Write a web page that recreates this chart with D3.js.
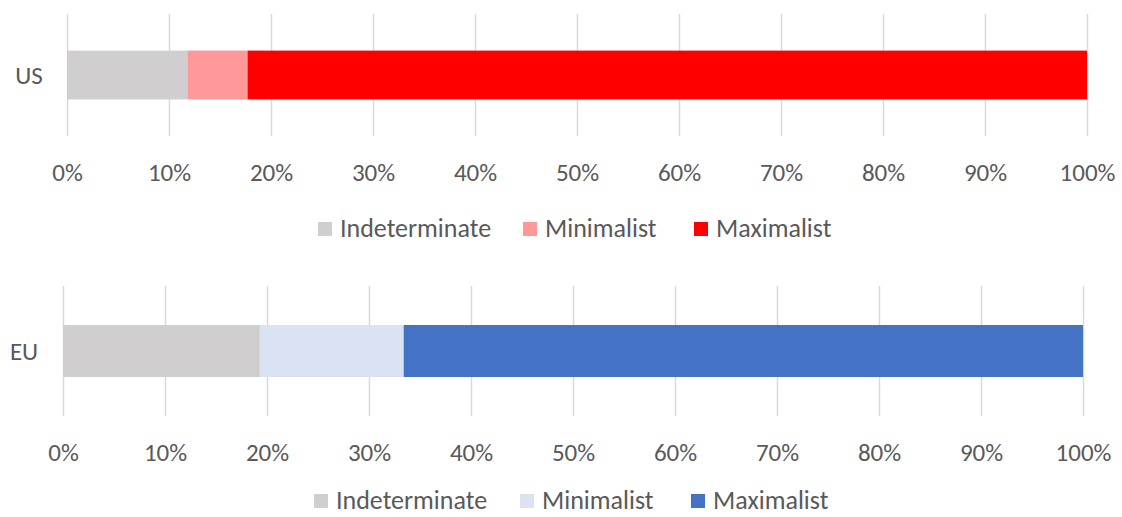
<!DOCTYPE html>
<html>
<head>
<meta charset="utf-8">
<script src="https://cdn.jsdelivr.net/npm/d3@7"></script>
<style>
  body { margin: 0; background: #fff; }
  svg { display: block; font-family: Carlito, Calibri, Lato, sans-serif; }
</style>
</head>
<body>
<script>
// data
var categories = ["Indeterminate", "Minimalist", "Maximalist"];
var usValues = [11.8, 5.9, 82.3];
var euValues = [19.3, 14.1, 66.6];
var tickValues = [0, 10, 20, 30, 40, 50, 60, 70, 80, 90, 100];

var usColors = ["#d0cece", "#ff9999", "#ff0000"];
var euColors = ["#d0cece", "#dae3f3", "#4472c4"];

var width = 1122;
var height = 517;
var fontSize = 25;
var legendFont = 26;

var svg = d3.select("body")
  .append("svg")
    .attr("width", width)
    .attr("height", height);

// one panel = one stacked bar with its own axis and legend
function panel(opts) {
  var x = d3.scaleLinear().domain([0, 100]).range([opts.x0, opts.x1]);
  var y = d3.scaleBand().domain([opts.label]).range([opts.top, opts.bottom])
    .paddingInner(0.6).paddingOuter(0.3);

  var g = svg.append("g");

  // gridlines
  g.append("g")
    .attr("transform", "translate(0," + opts.bottom + ")")
    .call(d3.axisBottom(x).tickValues(tickValues).tickSize(opts.bottom - opts.top).tickFormat(""))
    .call(function(a) {
      a.select(".domain").remove();
      a.selectAll("line").attr("stroke", "#d9d9d9").attr("stroke-width", 1.5)
        .attr("y1", 0).attr("y2", -(opts.bottom - opts.top));
    });

  // stacked segments
  var start = 0;
  var segs = opts.values.map(function(v, i) {
    var s = {name: categories[i], from: start, to: start + v, color: opts.colors[i]};
    start += v;
    return s;
  });

  g.selectAll("rect.seg").data(segs).enter().append("rect")
    .attr("class", "seg")
    .attr("x", function(d) { return x(d.from); })
    .attr("width", function(d) { return x(d.to) - x(d.from); })
    .attr("y", y(opts.label))
    .attr("height", y.bandwidth())
    .attr("fill", function(d) { return d.color; });

  // tick labels
  g.append("g")
    .attr("transform", "translate(0," + opts.labelY + ")")
    .call(d3.axisBottom(x).tickValues(tickValues).tickSize(0).tickPadding(0)
      .tickFormat(function(d) { return d + "%"; }))
    .call(function(a) {
      a.select(".domain").remove();
      a.selectAll("text")
        .attr("dy", "0.35em")
        .attr("font-family", "Carlito, Calibri, Lato, sans-serif")
        .attr("font-size", fontSize)
        .attr("fill", "#595959");
    });

  // category label
  g.append("text")
    .attr("x", opts.catX)
    .attr("y", y(opts.label) + y.bandwidth() / 2)
    .attr("dy", "0.35em")
    .attr("text-anchor", "middle")
    .attr("font-size", fontSize)
    .attr("fill", "#595959")
    .text(opts.label);

  // legend
  var leg = g.append("g").attr("transform", "translate(0," + opts.legendY + ")");
  var items = leg.selectAll("g").data(segs).enter().append("g")
    .attr("transform", function(d, i) { return "translate(" + opts.legendX[i] + ",0)"; });
  items.append("rect")
    .attr("x", 0).attr("y", -6)
    .attr("width", 14).attr("height", 14)
    .attr("fill", function(d) { return d.color; });
  items.append("text")
    .attr("x", 22)
    .attr("dy", "0.35em")
    .attr("font-size", legendFont)
    .attr("fill", "#595959")
    .text(function(d) { return d.name; });
}

panel({label: "US", values: usValues, colors: usColors,
  x0: 67, x1: 1087, top: 14, bottom: 136, labelY: 172, catX: 29,
  legendY: 228, legendX: [318, 523, 694]});

panel({label: "EU", values: euValues, colors: euColors,
  x0: 63, x1: 1083, top: 286, bottom: 416, labelY: 452, catX: 24,
  legendY: 500, legendX: [314, 520, 691]});
</script>
</body>
</html>
